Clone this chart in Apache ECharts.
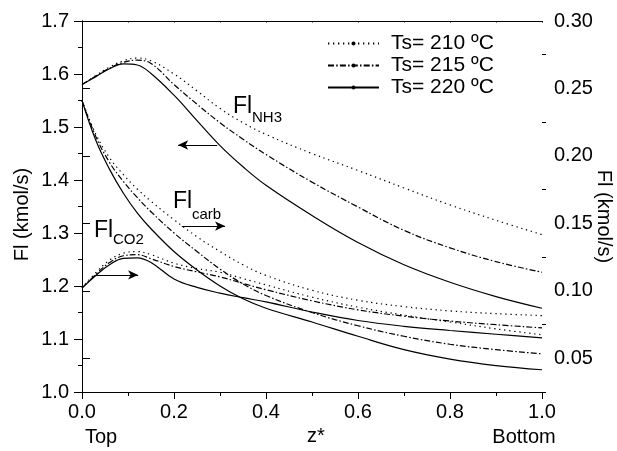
<!DOCTYPE html>
<html>
<head>
<meta charset="utf-8">
<script src="https://cdn.jsdelivr.net/npm/echarts@6/dist/echarts.min.js"></script>
<style>
html,body{margin:0;padding:0;background:#fff;}
#c{width:617px;height:451px;}
</style>
</head>
<body>
<div id="c"></div>
<script>
// ---- data (z* position, flows in kmol/s) ----
const z = [0, 0.03, 0.06, 0.09, 0.12, 0.15, 0.2, 0.25, 0.3, 0.35, 0.4, 0.5, 0.6, 0.7, 0.8, 0.9, 1.0];

// Fl NH3 (left axis)
const nh3_210 = [1.580, 1.597, 1.613, 1.625, 1.630, 1.625, 1.600, 1.568, 1.535, 1.508, 1.486, 1.450, 1.418, 1.385, 1.353, 1.324, 1.297];
const nh3_215 = [1.580, 1.596, 1.611, 1.622, 1.626, 1.620, 1.580, 1.543, 1.508, 1.477, 1.448, 1.396, 1.349, 1.305, 1.272, 1.246, 1.226];
const nh3_220 = [1.580, 1.595, 1.610, 1.619, 1.617, 1.601, 1.560, 1.512, 1.465, 1.425, 1.390, 1.333, 1.282, 1.240, 1.207, 1.180, 1.158];

// Fl carb (right axis)
const carb_210 = [0.2411, 0.2163, 0.1986, 0.1861, 0.1755, 0.1664, 0.1527, 0.1401, 0.1291, 0.1193, 0.1114, 0.1004, 0.0930, 0.0883, 0.0851, 0.0831, 0.0816];
const carb_215 = [0.2411, 0.2144, 0.1951, 0.1810, 0.1692, 0.1586, 0.1429, 0.1291, 0.1161, 0.1051, 0.0965, 0.0839, 0.0741, 0.0663, 0.0604, 0.0564, 0.0533];
const carb_220 = [0.2411, 0.2116, 0.1900, 0.1723, 0.1578, 0.1460, 0.1291, 0.1154, 0.1036, 0.0941, 0.0871, 0.0769, 0.0663, 0.0564, 0.0494, 0.0446, 0.0415];

// Fl CO2 (right axis)
const co2_210 = [0.1020, 0.1134, 0.1228, 0.1279, 0.1291, 0.1268, 0.1205, 0.1165, 0.1138, 0.1091, 0.1044, 0.0953, 0.0879, 0.0820, 0.0769, 0.0718, 0.0674];
const co2_215 = [0.1020, 0.1122, 0.1209, 0.1260, 0.1268, 0.1238, 0.1180, 0.1140, 0.1103, 0.1055, 0.1008, 0.0926, 0.0859, 0.0812, 0.0776, 0.0749, 0.0725];
const co2_220 = [0.1020, 0.1114, 0.1193, 0.1240, 0.1244, 0.1210, 0.1088, 0.1025, 0.0983, 0.0949, 0.0918, 0.0843, 0.0780, 0.0737, 0.0706, 0.0678, 0.0651];

const seriesNames = ['Ts= 210 ºC', 'Ts= 215 ºC', 'Ts= 220 ºC'];
const rightTicks = [0.05, 0.10, 0.15, 0.20, 0.25, 0.30];
const rightMinorTicks = [0.025, 0.075, 0.125, 0.175, 0.225, 0.275];

// annotation arrows: [zFrom, zTo, value]
const arrowNH3 = [0.294, 0.209, 1.466];
const arrowCarb = [0.217, 0.311, 0.148];
const arrowCO2 = [0.028, 0.122, 0.1118];

// ---- styles ----
const FONT = 'Liberation Sans, Arial, sans-serif';
const dashes = [[1.3, 3.7], [6, 2.2, 1.5, 2.2], 'solid'];

function pairs(v) { return z.map((x, i) => [x, v[i]]); }

function arrowMark(a) {
  return {
    silent: true,
    symbol: ['none', 'arrow'],
    symbolSize: [7, 10],
    label: {show: false},
    lineStyle: {color: '#000', width: 1, type: 'solid'},
    emphasis: {disabled: true},
    data: [[{coord: [a[0], a[2]]}, {coord: [a[1], a[2]]}]]
  };
}

function mk(name, data, idx, yAxisIndex, mark) {
  const s = {
    name: name,
    type: 'line',
    data: pairs(data),
    xAxisIndex: 0,
    yAxisIndex: yAxisIndex,
    smooth: 0.4,
    symbol: 'circle',
    symbolSize: 4,
    showSymbol: false,
    silent: true,
    itemStyle: {color: '#000'},
    lineStyle: {color: '#000', width: 1.2, type: dashes[idx]},
    emphasis: {disabled: true}
  };
  if (mark) s.markLine = mark;
  return s;
}

const series = [
  mk(seriesNames[0], nh3_210, 0, 0),
  mk(seriesNames[1], nh3_215, 1, 0),
  mk(seriesNames[2], nh3_220, 2, 0, arrowMark(arrowNH3)),
  mk(seriesNames[0], carb_210, 0, 1),
  mk(seriesNames[1], carb_215, 1, 1),
  mk(seriesNames[2], carb_220, 2, 1, arrowMark(arrowCarb)),
  mk(seriesNames[0], co2_210, 0, 1),
  mk(seriesNames[1], co2_215, 1, 1),
  mk(seriesNames[2], co2_220, 2, 1, arrowMark(arrowCO2))
];

const axisLineStyle = {show: true, lineStyle: {color: '#000', width: 1}};
const labelStyle = {color: '#000', fontSize: 20, fontFamily: FONT};

const chart = echarts.init(document.getElementById('c'), null, {renderer: 'canvas'});
chart.setOption({
  animation: false,
  backgroundColor: '#fff',
  textStyle: {fontFamily: FONT, color: '#000'},
  grid: {left: 82, right: 75, top: 21, bottom: 59, containLabel: false, outerBoundsMode: 'none'},
  legend: {
    orient: 'vertical',
    left: 327,
    top: 33,
    padding: 0,
    itemWidth: 51,
    itemHeight: 5,
    itemGap: 1,
    data: seriesNames,
    selectedMode: false,
    textStyle: {color: '#000', fontSize: 21, fontFamily: FONT, lineHeight: 20, padding: [0, 0, 0, 7]}
  },
  xAxis: [
    {
      type: 'value', position: 'bottom', min: 0, max: 1, interval: 0.2,
      name: 'z*', nameLocation: 'middle', nameGap: 34, nameMoveOverlap: false,
      nameTextStyle: {color: '#000', fontSize: 20, fontFamily: FONT, padding: [0, 0, 0, 8]},
      axisLine: axisLineStyle,
      axisTick: {show: true, inside: false, length: 7, lineStyle: {color: '#000'}},
      minorTick: {show: true, splitNumber: 2, length: 4, lineStyle: {color: '#000'}},
      axisLabel: Object.assign({margin: 10, formatter: v => v.toFixed(1)}, labelStyle),
      splitLine: {show: false}
    },
    {
      type: 'value', position: 'top', min: 0, max: 1, interval: 0.1,
      axisLine: axisLineStyle,
      axisTick: {show: true, inside: true, length: 1.5, lineStyle: {color: '#000'}},
      axisLabel: {show: false},
      splitLine: {show: false}
    }
  ],
  yAxis: [
    {
      type: 'value', position: 'left', min: 1.0, max: 1.7, interval: 0.1,
      name: 'Fl (kmol/s)', nameLocation: 'middle', nameRotate: 90, nameGap: 50, nameMoveOverlap: false,
      nameTextStyle: {color: '#000', fontSize: 20, fontFamily: FONT, padding: [0, 16, 0, 0]},
      axisLine: axisLineStyle,
      axisTick: {show: true, inside: false, length: 8, lineStyle: {color: '#000'}},
      minorTick: {show: true, splitNumber: 2, length: 4, lineStyle: {color: '#000'}},
      axisLabel: Object.assign({margin: 13, formatter: v => v.toFixed(1)}, labelStyle),
      splitLine: {show: false}
    },
    {
      type: 'value', position: 'right', min: 0.025, max: 0.30,
      name: 'Fl (kmol/s)', nameLocation: 'middle', nameRotate: -90, nameGap: 52, nameMoveOverlap: false,
      nameTextStyle: {color: '#000', fontSize: 20, fontFamily: FONT, padding: [0, 0, 0, 20]},
      axisLine: axisLineStyle,
      axisTick: {show: true, inside: false, length: 8, customValues: rightTicks, lineStyle: {color: '#000'}},
      axisLabel: Object.assign({margin: 12, customValues: rightTicks, formatter: v => v.toFixed(2)}, labelStyle),
      splitLine: {show: false}
    },
    {
      type: 'value', position: 'right', min: 0.025, max: 0.30,
      axisLine: {show: false},
      axisTick: {show: true, inside: false, length: 4, customValues: rightMinorTicks, lineStyle: {color: '#000'}},
      axisLabel: {show: false, customValues: rightMinorTicks},
      splitLine: {show: false}
    }
  ],
  graphic: [
    {type: 'text', x: 233, y: 106.5, silent: true, style: {text: 'Fl', fontSize: 23, fontFamily: FONT, fill: '#000', align: 'left', verticalAlign: 'middle'}},
    {type: 'text', x: 252, y: 117.8, silent: true, style: {text: 'NH3', fontSize: 15, fontFamily: FONT, fill: '#000', align: 'left', verticalAlign: 'middle'}},
    {type: 'text', x: 173, y: 201.5, silent: true, style: {text: 'Fl', fontSize: 23, fontFamily: FONT, fill: '#000', align: 'left', verticalAlign: 'middle'}},
    {type: 'text', x: 192, y: 214.8, silent: true, style: {text: 'carb', fontSize: 15, fontFamily: FONT, fill: '#000', align: 'left', verticalAlign: 'middle'}},
    {type: 'text', x: 94, y: 231, silent: true, style: {text: 'Fl', fontSize: 23, fontFamily: FONT, fill: '#000', align: 'left', verticalAlign: 'middle'}},
    {type: 'text', x: 113, y: 239.8, silent: true, style: {text: 'CO2', fontSize: 15, fontFamily: FONT, fill: '#000', align: 'left', verticalAlign: 'middle'}},
    {type: 'text', x: 101, y: 437, silent: true, style: {text: 'Top', fontSize: 20, fontFamily: FONT, fill: '#000', align: 'center', verticalAlign: 'middle'}},
    {type: 'text', x: 524, y: 437, silent: true, style: {text: 'Bottom', fontSize: 20, fontFamily: FONT, fill: '#000', align: 'center', verticalAlign: 'middle'}}
  ],
  series: series
});
</script>
</body>
</html>
